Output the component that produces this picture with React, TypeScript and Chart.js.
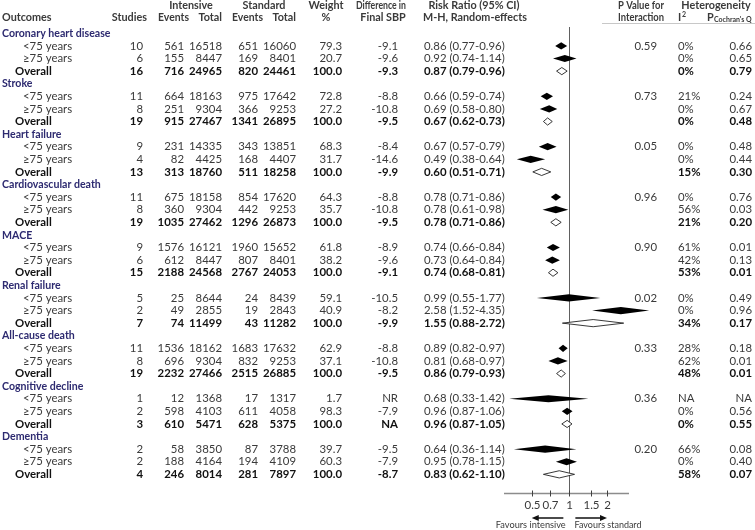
import { useEffect, useRef } from 'react';
import { Chart, registerables } from 'chart.js';
Chart.register(...registerables);

const outcomes = ['Coronary heart disease', 'Stroke', 'Heart failure', 'Cardiovascular death', 'MACE', 'Renal failure', 'All-cause death', 'Cognitive decline', 'Dementia'];
const subgroupLabels = ['<75 years', '≥75 years', 'Overall'];
const studies = [10, 6, 16, 11, 8, 19, 9, 4, 13, 11, 8, 19, 9, 6, 15, 5, 2, 7, 11, 8, 19, 1, 2, 3, 2, 2, 4];
const intEvents = [561, 155, 716, 664, 251, 915, 231, 82, 313, 675, 360, 1035, 1576, 612, 2188, 25, 49, 74, 1536, 696, 2232, 12, 598, 610, 58, 188, 246];
const intTotal = [16518, 8447, 24965, 18163, 9304, 27467, 14335, 4425, 18760, 18158, 9304, 27462, 16121, 8447, 24568, 8644, 2855, 11499, 18162, 9304, 27466, 1368, 4103, 5471, 3850, 4164, 8014];
const stdEvents = [651, 169, 820, 975, 366, 1341, 343, 168, 511, 854, 442, 1296, 1960, 807, 2767, 24, 19, 43, 1683, 832, 2515, 17, 611, 628, 87, 194, 281];
const stdTotal = [16060, 8401, 24461, 17642, 9253, 26895, 13851, 4407, 18258, 17620, 9253, 26873, 15652, 8401, 24053, 8439, 2843, 11282, 17632, 9253, 26885, 1317, 4058, 5375, 3788, 4109, 7897];
const weights = [79.3, 20.7, 100, 72.8, 27.2, 100, 68.3, 31.7, 100, 64.3, 35.7, 100, 61.8, 38.2, 100, 59.1, 40.9, 100, 62.9, 37.1, 100, 1.7, 98.3, 100, 39.7, 60.3, 100];
const sbpDiff = ['-9.1', '-9.6', '-9.3', '-8.8', '-10.8', '-9.5', '-8.4', '-14.6', '-9.9', '-8.8', '-10.8', '-9.5', '-8.9', '-9.6', '-9.1', '-10.5', '-8.2', '-9.9', '-8.8', '-10.8', '-9.5', 'NR', '-7.9', 'NA', '-9.5', '-7.9', '-8.7'];
const rr = [0.86, 0.92, 0.87, 0.66, 0.69, 0.67, 0.67, 0.49, 0.60, 0.78, 0.78, 0.78, 0.74, 0.73, 0.74, 0.99, 2.58, 1.55, 0.89, 0.81, 0.86, 0.68, 0.96, 0.96, 0.64, 0.95, 0.83];
const rrLow = [0.77, 0.74, 0.79, 0.59, 0.58, 0.62, 0.57, 0.38, 0.51, 0.71, 0.61, 0.71, 0.66, 0.64, 0.68, 0.55, 1.52, 0.88, 0.82, 0.68, 0.79, 0.33, 0.87, 0.87, 0.36, 0.78, 0.62];
const rrHigh = [0.96, 1.14, 0.96, 0.74, 0.80, 0.73, 0.79, 0.64, 0.71, 0.86, 0.98, 0.86, 0.84, 0.84, 0.81, 1.77, 4.35, 2.72, 0.97, 0.97, 0.93, 1.42, 1.06, 1.05, 1.14, 1.15, 1.10];
const pInteraction = ['0.59', '0.73', '0.05', '0.96', '0.90', '0.02', '0.33', '0.36', '0.20'];
const i2 = ['0%', '0%', '0%', '21%', '0%', '0%', '0%', '0%', '15%', '0%', '56%', '21%', '61%', '42%', '53%', '0%', '0%', '34%', '28%', '62%', '48%', 'NA', '0%', '0%', '66%', '0%', '58%'];
const pQ = ['0.66', '0.65', '0.79', '0.24', '0.67', '0.48', '0.48', '0.44', '0.30', '0.76', '0.03', '0.20', '0.01', '0.13', '0.01', '0.49', '0.96', '0.17', '0.18', '0.01', '0.01', 'NA', '0.56', '0.55', '0.08', '0.40', '0.07'];
const xTicks = [0.5, 0.7, 1, 1.5, 2];
const xTickLabels = ['0.5', '0.7', '1', '1.5', '2'];

const FONT = 'Lato, "Liberation Sans", sans-serif';
const FS = 11.4;
const HFS = 10.8;
const TEXT = '#3a3a3a';
const BOLD = '#111111';
const GROUP = '#2d2a70';

const rowOf = (i: number) => Math.floor(i / 3) * 4 + 1 + (i % 3);

const forestPlugin = {
  id: 'forest',
  beforeDatasetsDraw(chart: any) {
    const ctx = chart.ctx as CanvasRenderingContext2D;
    const xs = chart.scales.x;
    const ys = chart.scales.y;
    const area = chart.chartArea;
    ctx.save();
    const txt = (s: string, x: number, y: number, align: CanvasTextAlign, weight: string, color: string, size = FS, maxW?: number) => {
      ctx.font = `${weight} ${size}px ${FONT}`;
      ctx.fillStyle = color;
      ctx.textAlign = align;
      ctx.textBaseline = 'middle';
      if (maxW) ctx.fillText(s, x, y, maxW);
      else ctx.fillText(s, x, y);
    };
    // headers
    const h1 = 6, h2 = 17.5;
    const hd = (s: string, x: number, y: number, align: CanvasTextAlign, w: number) => txt(s, x, y, align, 'bold', TEXT, HFS, w);
    hd('Intensive', 191, h1, 'center', 46);
    hd('Standard', 264, h1, 'center', 46);
    hd('Weight', 326, h1, 'center', 35);
    hd('Difference in', 381, h1, 'center', 50);
    hd('Risk Ratio (95% CI)', 474, h1, 'center', 92);
    hd('P Value for', 641, h1, 'center', 46);
    hd('Heterogeneity', 716, h1, 'center', 74);
    hd('Outcomes', 2, h2, 'left', 52);
    hd('Studies', 147, h2, 'right', 38);
    hd('Events', 189, h2, 'right', 31);
    hd('Total', 222, h2, 'right', 25);
    hd('Events', 263, h2, 'right', 31);
    hd('Total', 296, h2, 'right', 26);
    hd('%', 326, h2, 'center', 10);
    hd('Final SBP', 383, h2, 'center', 48);
    hd('M-H, Random-effects', 475, h2, 'center', 104);
    hd('Interaction', 641, h2, 'center', 46);
    hd('I', 678, h2, 'left', 4);
    txt('2', 682, h2 - 3, 'left', 'bold', TEXT, 7);
    hd('P', 707, h2, 'left', 7);
    txt("Cochran's Q", 714, h2 + 2.5, 'left', 'bold', TEXT, 7, 38);
    ctx.strokeStyle = '#c8c8c8';
    ctx.lineWidth = 1;
    ctx.beginPath();
    ctx.moveTo(602, 23.5);
    ctx.lineTo(755, 23.5);
    ctx.stroke();

    // group headers
    outcomes.forEach((name, g) => {
      ctx.save();
      ctx.translate(2, 0);
      ctx.scale(0.93, 1);
      txt(name, 0, ys.getPixelForValue(g * 4), 'left', 'bold', GROUP, 11.4);
      ctx.restore();
      txt(pInteraction[g], 657, ys.getPixelForValue(g * 4 + 1), 'right', 'normal', TEXT);
    });
    // rows
    for (let i = 0; i < studies.length; i++) {
      const y = ys.getPixelForValue(rowOf(i));
      const overall = i % 3 === 2;
      const w = overall ? 'bold' : 'normal';
      const c = overall ? BOLD : TEXT;
      txt(subgroupLabels[i % 3], overall ? 15 : 23, y, 'left', w, c);
      txt(String(studies[i]), 143, y, 'right', w, c);
      txt(String(intEvents[i]), 184, y, 'right', w, c);
      txt(String(intTotal[i]), 222, y, 'right', w, c);
      txt(String(stdEvents[i]), 258, y, 'right', w, c);
      txt(String(stdTotal[i]), 296, y, 'right', w, c);
      txt(weights[i].toFixed(1), 342, y, 'right', w, c);
      txt(sbpDiff[i], 398, y, 'right', w, c);
      txt(`${rr[i].toFixed(2)} (${rrLow[i].toFixed(2)}-${rrHigh[i].toFixed(2)})`, 424, y, 'left', w, c);
      txt(i2[i], 678, y, 'left', w, c);
      txt(pQ[i], 752, y, 'right', w, c);
    }

    // reference line at 1
    const x1 = xs.getPixelForValue(1);
    ctx.strokeStyle = '#606060';
    ctx.lineWidth = 1;
    ctx.beginPath();
    ctx.moveTo(Math.round(x1) + 0.5, area.top);
    ctx.lineTo(Math.round(x1) + 0.5, area.bottom);
    ctx.stroke();

    // axis
    const yb = Math.round(area.bottom) + 0.5;
    ctx.strokeStyle = '#8c8c8c';
    ctx.lineWidth = 1.3;
    ctx.beginPath();
    ctx.moveTo(area.left, yb);
    ctx.lineTo(area.right, yb);
    ctx.stroke();
    ctx.strokeStyle = '#404040';
    ctx.lineWidth = 1;
    xTicks.forEach((t, k) => {
      const px = Math.round(xs.getPixelForValue(t)) + 0.5;
      ctx.beginPath();
      ctx.moveTo(px, yb - 3);
      ctx.lineTo(px, yb + 3);
      ctx.stroke();
      txt(xTickLabels[k], px, yb + 12, 'center', 'normal', TEXT, 11.5);
    });
    // favours arrows
    const ya = yb + 24.5;
    const aL0 = xs.getPixelForValue(0.5), aL1 = x1 - 6;
    const aR0 = x1 + 6, aR1 = xs.getPixelForValue(2);
    ctx.strokeStyle = '#111';
    ctx.fillStyle = '#111';
    ctx.lineWidth = 1.4;
    ctx.beginPath();
    ctx.moveTo(aL0 + 5, ya);
    ctx.lineTo(aL1, ya);
    ctx.moveTo(aR0, ya);
    ctx.lineTo(aR1 - 5, ya);
    ctx.stroke();
    ctx.beginPath();
    ctx.moveTo(aL0, ya);
    ctx.lineTo(aL0 + 7, ya - 3);
    ctx.lineTo(aL0 + 7, ya + 3);
    ctx.closePath();
    ctx.fill();
    ctx.beginPath();
    ctx.moveTo(aR1, ya);
    ctx.lineTo(aR1 - 7, ya - 3);
    ctx.lineTo(aR1 - 7, ya + 3);
    ctx.closePath();
    ctx.fill();
    txt('Favours intensive', aL0 - 1, ya + 6.5, 'center', 'normal', TEXT, 9.4, 70);
    txt('Favours standard', aR1 + 1, ya + 6.5, 'center', 'normal', TEXT, 9.4, 67);
    ctx.restore();
  },
  afterDatasetsDraw(chart: any) {
    const ctx = chart.ctx as CanvasRenderingContext2D;
    const xs = chart.scales.x;
    const ys = chart.scales.y;
    ctx.save();
    for (let i = 0; i < rr.length; i++) {
      const y = ys.getPixelForValue(rowOf(i));
      const xl = xs.getPixelForValue(rrLow[i]);
      const xm = xs.getPixelForValue(rr[i]);
      const xh = xs.getPixelForValue(rrHigh[i]);
      const overall = i % 3 === 2;
      const hh = 3.6;
      ctx.beginPath();
      ctx.moveTo(xl, y);
      ctx.lineTo(xm, y - hh);
      ctx.lineTo(xh, y);
      ctx.lineTo(xm, y + hh);
      ctx.closePath();
      if (overall) {
        ctx.fillStyle = '#ffffff';
        ctx.fill();
        ctx.strokeStyle = '#222';
        ctx.lineWidth = 0.9;
        ctx.stroke();
      } else {
        ctx.fillStyle = '#000';
        ctx.fill();
      }
    }
    ctx.restore();
  },
};

export default function App() {
  const ref = useRef<HTMLCanvasElement | null>(null);
  useEffect(() => {
    if (!ref.current) return;
    const chart = new Chart(ref.current, {
      type: 'scatter',
      data: {
        datasets: [
          {
            label: 'Risk ratio',
            data: rr.map((v, i) => ({ x: v, y: rowOf(i) })),
            pointRadius: 0,
            pointHoverRadius: 0,
          },
        ],
      },
      options: {
        responsive: false,
        animation: false,
        events: [],
        layout: { padding: { left: 504, right: 126, top: 27, bottom: 37 } },
        plugins: { legend: { display: false }, tooltip: { enabled: false } },
        scales: {
          x: { type: 'logarithmic', min: 0.33, max: 3.0, display: false },
          y: { type: 'linear', reverse: true, min: -0.5, max: 36.48, display: false },
        },
      },
      plugins: [forestPlugin],
    });
    return () => chart.destroy();
  }, []);
  return (
    <div style={{ position: 'absolute', left: 0, top: 0, width: 755, height: 530, background: '#fff' }}>
      <canvas ref={ref} width={755} height={530} style={{ width: 755, height: 530 }} />
    </div>
  );
}
